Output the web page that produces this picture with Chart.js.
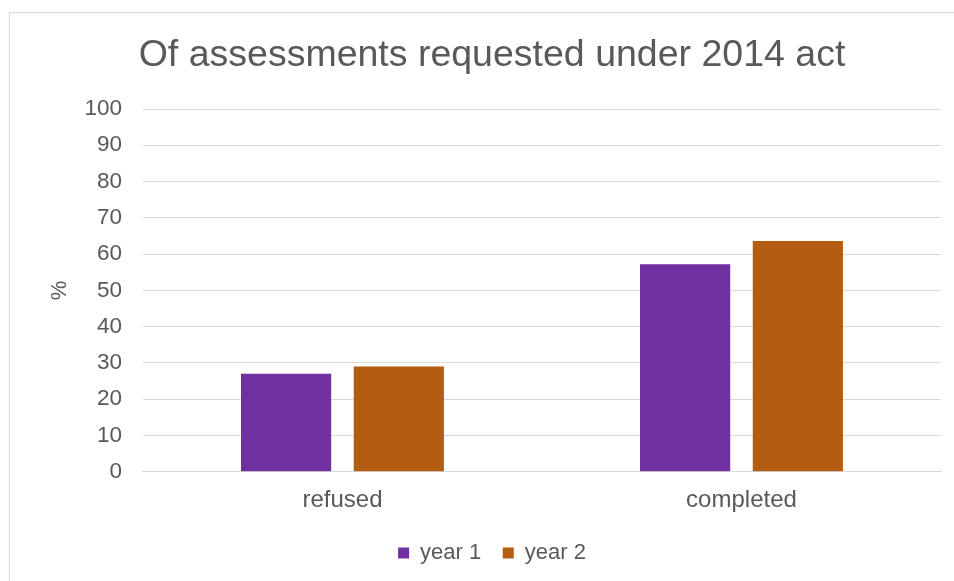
<!DOCTYPE html>
<html>
<head>
<meta charset="utf-8">
<script src="https://cdn.jsdelivr.net/npm/chart.js@4"></script>
<style>
    body { margin: 0; background: #fff; overflow: hidden; }
    #wrap {
        position: absolute; left: 9px; top: 12px;
        width: 961px; height: 580px;
        border: 1px solid #d9d9d9; box-sizing: border-box;
    }
</style>
</head>
<body>
<div id="wrap"><canvas id="chart"></canvas></div>
<script>
// Chart data
const categories = ['refused', 'completed'];
const year1 = [27, 57.2];
const year2 = [29, 63.6];
const yTicks = [0, 10, 20, 30, 40, 50, 60, 70, 80, 90, 100];

const textColor = '#595959';
const fontFamily = '"Liberation Sans", Arial, sans-serif';

new Chart(document.getElementById('chart').getContext('2d'), {
    type: 'bar',
    data: {
        labels: categories,
        datasets: [
            { label: 'year 1', data: year1, backgroundColor: '#7030A0' },
            { label: 'year 2', data: year2, backgroundColor: '#B45C11' }
        ]
    },
    options: {
        responsive: true,
        maintainAspectRatio: false,
        animation: false,
        categoryPercentage: 0.565,
        barPercentage: 0.8,
        layout: { padding: { left: 33, right: 28, top: 10, bottom: 17 } },
        plugins: {
            title: {
                display: true,
                text: 'Of assessments requested under 2014 act',
                color: textColor,
                font: { family: fontFamily, size: 37.5, weight: 'normal' },
                padding: { top: 10, bottom: 31 }
            },
            legend: {
                position: 'bottom',
                labels: {
                    color: textColor,
                    boxWidth: 11,
                    boxHeight: 11,
                    padding: 21.5,
                    font: { family: fontFamily, size: 22 }
                }
            },
            tooltip: { enabled: false }
        },
        scales: {
            x: {
                grid: { display: false },
                border: { color: '#d9d9d9' },
                ticks: {
                    color: textColor,
                    padding: 6,
                    font: { family: fontFamily, size: 24 }
                }
            },
            y: {
                min: 0,
                max: 100,
                afterBuildTicks: function (axis) {
                    axis.ticks = yTicks.map(v => ({ value: v }));
                },
                grid: { color: '#d9d9d9', drawTicks: true, tickLength: 12, tickColor: 'rgba(0,0,0,0)' },
                border: { display: false },
                title: {
                    display: true,
                    text: '%',
                    color: textColor,
                    font: { family: fontFamily, size: 22 },
                    padding: { bottom: 2 }
                },
                ticks: {
                    color: textColor,
                    padding: 9,
                    font: { family: fontFamily, size: 22.5 }
                }
            }
        }
    }
});
</script>
</body>
</html>
